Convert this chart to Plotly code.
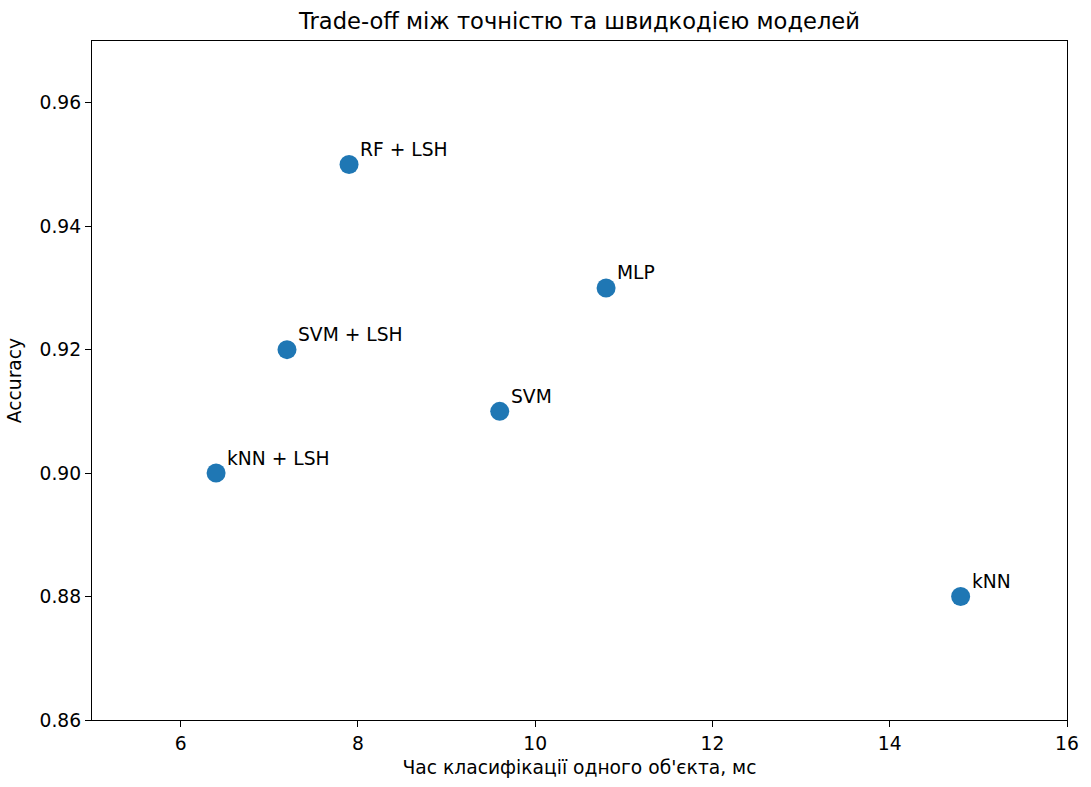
import plotly.graph_objects as go

models = ["kNN", "kNN + LSH", "SVM", "SVM + LSH", "RF + LSH", "MLP"]
time_ms = [14.8, 6.4, 9.6, 7.2, 7.9, 10.8]
accuracy = [0.88, 0.90, 0.91, 0.92, 0.95, 0.93]

x_ticks = [6, 8, 10, 12, 14, 16]
y_ticks = [0.86, 0.88, 0.90, 0.92, 0.94, 0.96]

font = "DejaVu Sans"
fs = 18.7

fig = go.Figure()
fig.add_trace(go.Scatter(
    x=time_ms, y=accuracy, mode="markers",
    marker=dict(size=19, color="#1f77b4", line=dict(width=0)),
    hoverinfo="skip", showlegend=False,
))

for m, xv, yv in zip(models, time_ms, accuracy):
    fig.add_annotation(
        x=xv, y=yv, text=m, showarrow=False,
        xanchor="left", yanchor="middle", xshift=9, yshift=15,
        font=dict(family=font, size=fs, color="#000"),
    )

axis_common = dict(
    showgrid=False, zeroline=False, showline=True, mirror=True,
    linecolor="#000", linewidth=1.3, ticks="outside", ticklen=6,
    tickwidth=1.2, tickcolor="#000",
    tickfont=dict(family=font, size=fs, color="#000"),
)

fig.update_layout(
    width=1091, height=787,
    margin=dict(l=92, r=17, t=41, b=60),
    paper_bgcolor="white", plot_bgcolor="white",
    title=dict(text="Trade-off між точністю та швидкодією моделей",
               x=0.5, xref="paper", xanchor="center", y=0.973, yanchor="middle",
               font=dict(family=font, size=22.6, color="#000")),
    xaxis=dict(range=[5, 16], tickvals=x_ticks, ticktext=[str(t) for t in x_ticks],
               title=dict(text="Час класифікації одного об'єкта, мс", standoff=8,
                          font=dict(family=font, size=fs, color="#000")),
               **axis_common),
    yaxis=dict(range=[0.86, 0.97], tickvals=y_ticks, ticktext=[f"{t:.2f}" for t in y_ticks],
               title=dict(text="Accuracy", standoff=12,
                          font=dict(family=font, size=fs, color="#000")),
               **axis_common),
)

fig.write_html("out.html", config={"displayModeBar": False, "responsive": False},
               post_script="document.body.style.margin='0';document.body.style.overflow='hidden';")
